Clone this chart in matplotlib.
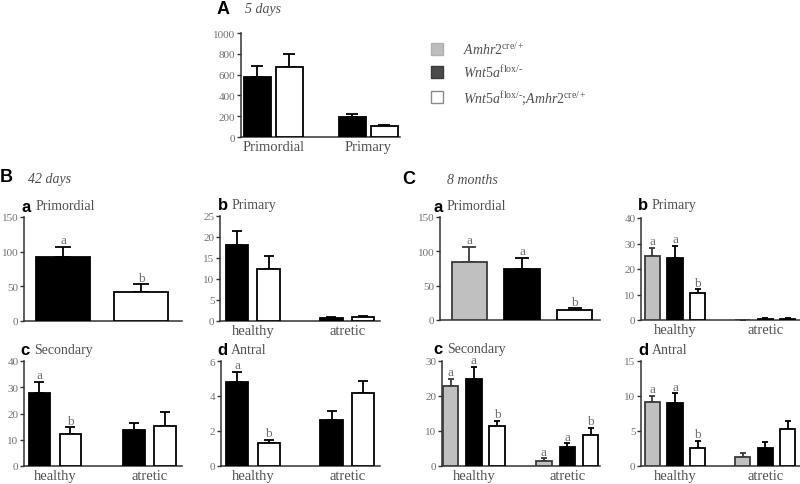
import matplotlib
matplotlib.use("Agg")
import matplotlib.pyplot as plt
from matplotlib.patches import Rectangle

plt.rcParams['mathtext.fontset'] = 'custom'
plt.rcParams['mathtext.rm'] = 'Liberation Serif'
plt.rcParams['mathtext.it'] = 'Liberation Serif:italic'
plt.rcParams['font.family'] = ['Liberation Serif', 'DejaVu Serif']

# ---------------- data ----------------
genotype_labels = [r"$\mathit{Amhr2}^{\mathrm{cre/+}}$",
                   r"$\mathit{Wnt5a}^{\mathrm{flox/}\text{-}}$",
                   r"$\mathit{Wnt5a}^{\mathrm{flox/}\text{-}}$;$\mathit{Amhr2}^{\mathrm{cre/+}}$"]

# A: 5 days
a_cats = ["Primordial", "Primary"]
a_flox = [580, 195]
a_flox_err = [100, 30]
a_cko = [670, 105]
a_cko_err = [130, 15]

# B: 42 days
b_prim_flox = [93]
b_prim_flox_err = [14]
b_prim_cko = [42]
b_prim_cko_err = [11]
b_prim_flox_sig = ["a"]
b_prim_cko_sig = ["b"]

hc_cats = ["healthy", "atretic"]

b_pri_flox = [18.0, 0.8]
b_pri_flox_err = [3.5, 0.25]
b_pri_cko = [12.4, 1.0]
b_pri_cko_err = [3.1, 0.15]

b_sec_flox = [28.0, 13.8]
b_sec_flox_err = [4.0, 2.5]
b_sec_cko = [12.3, 15.4]
b_sec_cko_err = [2.4, 5.1]
b_sec_flox_sig = ["a", ""]
b_sec_cko_sig = ["b", ""]

b_ant_flox = [4.8, 2.65]
b_ant_flox_err = [0.6, 0.5]
b_ant_cko = [1.3, 4.15]
b_ant_cko_err = [0.2, 0.7]
b_ant_flox_sig = ["a", ""]
b_ant_cko_sig = ["b", ""]

# C: 8 months
c_prim_ctrl = [84]
c_prim_ctrl_err = [23]
c_prim_flox = [74]
c_prim_flox_err = [17]
c_prim_cko = [14]
c_prim_cko_err = [3]
c_prim_sig = [["a"], ["a"], ["b"]]

c_pri_ctrl = [25.0, 0.0]
c_pri_ctrl_err = [3.3, 0.0]
c_pri_flox = [24.5, 0.5]
c_pri_flox_err = [4.5, 0.3]
c_pri_cko = [10.5, 0.4]
c_pri_cko_err = [1.5, 0.2]
c_pri_sig = [["a", ""], ["a", ""], ["b", ""]]

c_sec_ctrl = [22.8, 1.5]
c_sec_ctrl_err = [2.2, 0.7]
c_sec_flox = [25.0, 5.4]
c_sec_flox_err = [3.3, 1.1]
c_sec_cko = [11.3, 9.0]
c_sec_cko_err = [1.7, 2.0]
c_sec_sig = [["a", "a"], ["a", "a"], ["b", "b"]]

c_ant_ctrl = [9.2, 1.3]
c_ant_ctrl_err = [0.8, 0.5]
c_ant_flox = [9.0, 2.6]
c_ant_flox_err = [1.4, 0.8]
c_ant_cko = [2.6, 5.3]
c_ant_cko_err = [1.0, 1.1]
c_ant_sig = [["a", ""], ["a", ""], ["b", ""]]

# ---------------- styles ----------------
STYLE = {
    'ctrl': dict(face='#c0c0c0', edge='#3a3a3a'),
    'flox': dict(face='#000000', edge='#000000'),
    'cko': dict(face='#ffffff', edge='#000000'),
}
TICK_GRAY = '#707070'
LABEL_GRAY = '#505050'

W, H = 800, 485
fig = plt.figure(figsize=(8, 4.85), dpi=100)


def fx(px):
    return px / W


def fy(py):
    return (H - py) / H


def add_ax(l, r, t, b):
    return fig.add_axes([fx(l), fy(b), fx(r) - fx(l), fy(t) - fy(b)])


def draw_panel(ax, series, cats, ylim, ystep, width, gap, xlim, capsize, show_cats=True):
    nser = len(series)
    ngrp = len(series[0][0])
    for si, (vals, errs, sig, key) in enumerate(series):
        xs = [g * gap + si for g in range(ngrp)]
        st = STYLE[key]
        ax.errorbar(xs, vals, yerr=[[0] * ngrp, errs], fmt='none', ecolor=st['edge'] if key != 'cko' else '#000000',
                    elinewidth=1.3, capsize=capsize, capthick=1.3, zorder=2)
        ax.bar(xs, vals, width=width, color=st['face'], edgecolor=st['edge'], linewidth=1.3, zorder=3)
        if sig:
            for x, v, e, s in zip(xs, vals, errs, sig):
                if s:
                    ax.annotate(s, (x, v + e), xytext=(0, 0.5), textcoords='offset points',
                                ha='center', va='bottom', fontsize=9.5, color=TICK_GRAY)
    ax.set_ylim(*ylim)
    ticks = []
    t = ylim[0]
    while t <= ylim[1] + 1e-9:
        ticks.append(t)
        t += ystep
    ax.set_yticks(ticks)
    ax.set_yticklabels([f"{int(v)}" for v in ticks])
    ax.set_xlim(*xlim)
    centers = [g * gap + (nser - 1) / 2 for g in range(ngrp)]
    if show_cats:
        ax.set_xticks(centers)
        ax.set_xticklabels(cats, fontsize=10.5, color=LABEL_GRAY)
    else:
        ax.set_xticks([])
    for sp in ['top', 'right']:
        ax.spines[sp].set_visible(False)
    for sp in ['left', 'bottom']:
        ax.spines[sp].set_color('#333333')
        ax.spines[sp].set_linewidth(1.1)
    ax.tick_params(axis='y', length=3, width=1, color='#333333', labelsize=8,
                   labelcolor=TICK_GRAY, pad=1)
    ax.tick_params(axis='x', length=0, pad=2)
    ax.patch.set_alpha(0)


def subtitle(ax_left_px, y_px, letter, name):
    fig.text(fx(ax_left_px - 2), fy(y_px), letter, fontsize=12, fontweight='bold',
             family='Liberation Sans', ha='left', va='center', color='#000000')
    fig.text(fx(ax_left_px + 12), fy(y_px), name, fontsize=10, ha='left', va='center', color=LABEL_GRAY)


# ---------------- panel A ----------------
axA = add_ax(241, 400, 34, 138)
draw_panel(axA, [(a_flox, a_flox_err, None, 'flox'), (a_cko, a_cko_err, None, 'cko')],
           a_cats, (0, 1000), 200, 0.85, 3.0, (-0.52, 4.5), 4)
fig.text(fx(217), fy(9), "A", fontsize=13, fontweight='bold', family='Liberation Sans',
         ha='left', va='center')
fig.text(fx(245), fy(9), "5 days", fontsize=10, style='italic', color=LABEL_GRAY,
         ha='left', va='center')

# legend
leg_faces = ['#bdbdbd', '#4a4a4a', '#ffffff']
leg_edges = ['#b0b0b0', '#3a3a3a', '#8a8a8a']
leg_y = [50, 73, 98]
for lab, fc, ec, yy in zip(genotype_labels, leg_faces, leg_edges, leg_y):
    fig.add_artist(Rectangle((fx(431), fy(yy + 6)), fx(443) - fx(431), fy(yy - 6) - fy(yy + 6),
                             transform=fig.transFigure, facecolor=fc, edgecolor=ec, linewidth=1))
    fig.text(fx(463), fy(yy), lab, fontsize=10, color=LABEL_GRAY, ha='left', va='center')

# ---------------- panel B ----------------
fig.text(fx(0), fy(177), "B", fontsize=13, fontweight='bold', family='Liberation Sans',
         ha='left', va='center')
fig.text(fx(28), fy(179), "42 days", fontsize=10, style='italic', color=LABEL_GRAY,
         ha='left', va='center')

axBa = add_ax(24, 182, 218, 322)
draw_panel(axBa, [(b_prim_flox, b_prim_flox_err, b_prim_flox_sig, 'flox'),
                  (b_prim_cko, b_prim_cko_err, b_prim_cko_sig, 'cko')],
           None, (0, 150), 50, 0.69, 1.0, (-0.5, 1.52), 6, show_cats=False)
subtitle(24, 207, "a", "Primordial")

axBb = add_ax(220, 380, 217, 322)
draw_panel(axBb, [(b_pri_flox, b_pri_flox_err, None, 'flox'),
                  (b_pri_cko, b_pri_cko_err, None, 'cko')],
           hc_cats, (0, 25), 5, 0.7, 3.0, (-0.54, 4.54), 3.5)
subtitle(220, 206, "b", "Primary")

axBc = add_ax(24, 182, 362, 467)
draw_panel(axBc, [(b_sec_flox, b_sec_flox_err, b_sec_flox_sig, 'flox'),
                  (b_sec_cko, b_sec_cko_err, b_sec_cko_sig, 'cko')],
           hc_cats, (0, 40), 10, 0.69, 3.05, (-0.5, 4.6), 3.5)
subtitle(22, 351, "c", "Secondary")

axBd = add_ax(221, 380, 362, 467)
draw_panel(axBd, [(b_ant_flox, b_ant_flox_err, b_ant_flox_sig, 'flox'),
                  (b_ant_cko, b_ant_cko_err, b_ant_cko_sig, 'cko')],
           hc_cats, (0, 6), 2, 0.7, 3.0, (-0.51, 4.54), 3.5)
subtitle(219, 351, "d", "Antral")

# ---------------- panel C ----------------
fig.text(fx(402), fy(179), "C", fontsize=13, fontweight='bold', family='Liberation Sans',
         ha='left', va='center')
fig.text(fx(447), fy(181), "8 months", fontsize=10, style='italic', color=LABEL_GRAY,
         ha='left', va='center')

axCa = add_ax(440, 600, 218, 321)
draw_panel(axCa, [(c_prim_ctrl, c_prim_ctrl_err, c_prim_sig[0], 'ctrl'),
                  (c_prim_flox, c_prim_flox_err, c_prim_sig[1], 'flox'),
                  (c_prim_cko, c_prim_cko_err, c_prim_sig[2], 'cko')],
           None, (0, 150), 50, 0.67, 1.0, (-0.56, 2.48), 5, show_cats=False)
subtitle(435, 207, "a", "Primordial")

axCb = add_ax(641, 800, 219, 321)
draw_panel(axCb, [(c_pri_ctrl, c_pri_ctrl_err, c_pri_sig[0], 'ctrl'),
                  (c_pri_flox, c_pri_flox_err, c_pri_sig[1], 'flox'),
                  (c_pri_cko, c_pri_cko_err, c_pri_sig[2], 'cko')],
           hc_cats, (0, 40), 10, 0.67, 4.0, (-0.51, 6.55), 2.5)
subtitle(640, 206, "b", "Primary")

axCc = add_ax(442, 600, 362, 467)
draw_panel(axCc, [(c_sec_ctrl, c_sec_ctrl_err, c_sec_sig[0], 'ctrl'),
                  (c_sec_flox, c_sec_flox_err, c_sec_sig[1], 'flox'),
                  (c_sec_cko, c_sec_cko_err, c_sec_sig[2], 'cko')],
           hc_cats, (0, 30), 10, 0.67, 4.0, (-0.37, 6.4), 2.5)
subtitle(435, 349, "c", "Secondary")

axCd = add_ax(641, 800, 362, 467)
draw_panel(axCd, [(c_ant_ctrl, c_ant_ctrl_err, c_ant_sig[0], 'ctrl'),
                  (c_ant_flox, c_ant_flox_err, c_ant_sig[1], 'flox'),
                  (c_ant_cko, c_ant_cko_err, c_ant_sig[2], 'cko')],
           hc_cats, (0, 15), 5, 0.67, 4.0, (-0.51, 6.55), 2.5)
subtitle(640, 351, "d", "Antral")

fig.savefig("out.png", dpi=100)
